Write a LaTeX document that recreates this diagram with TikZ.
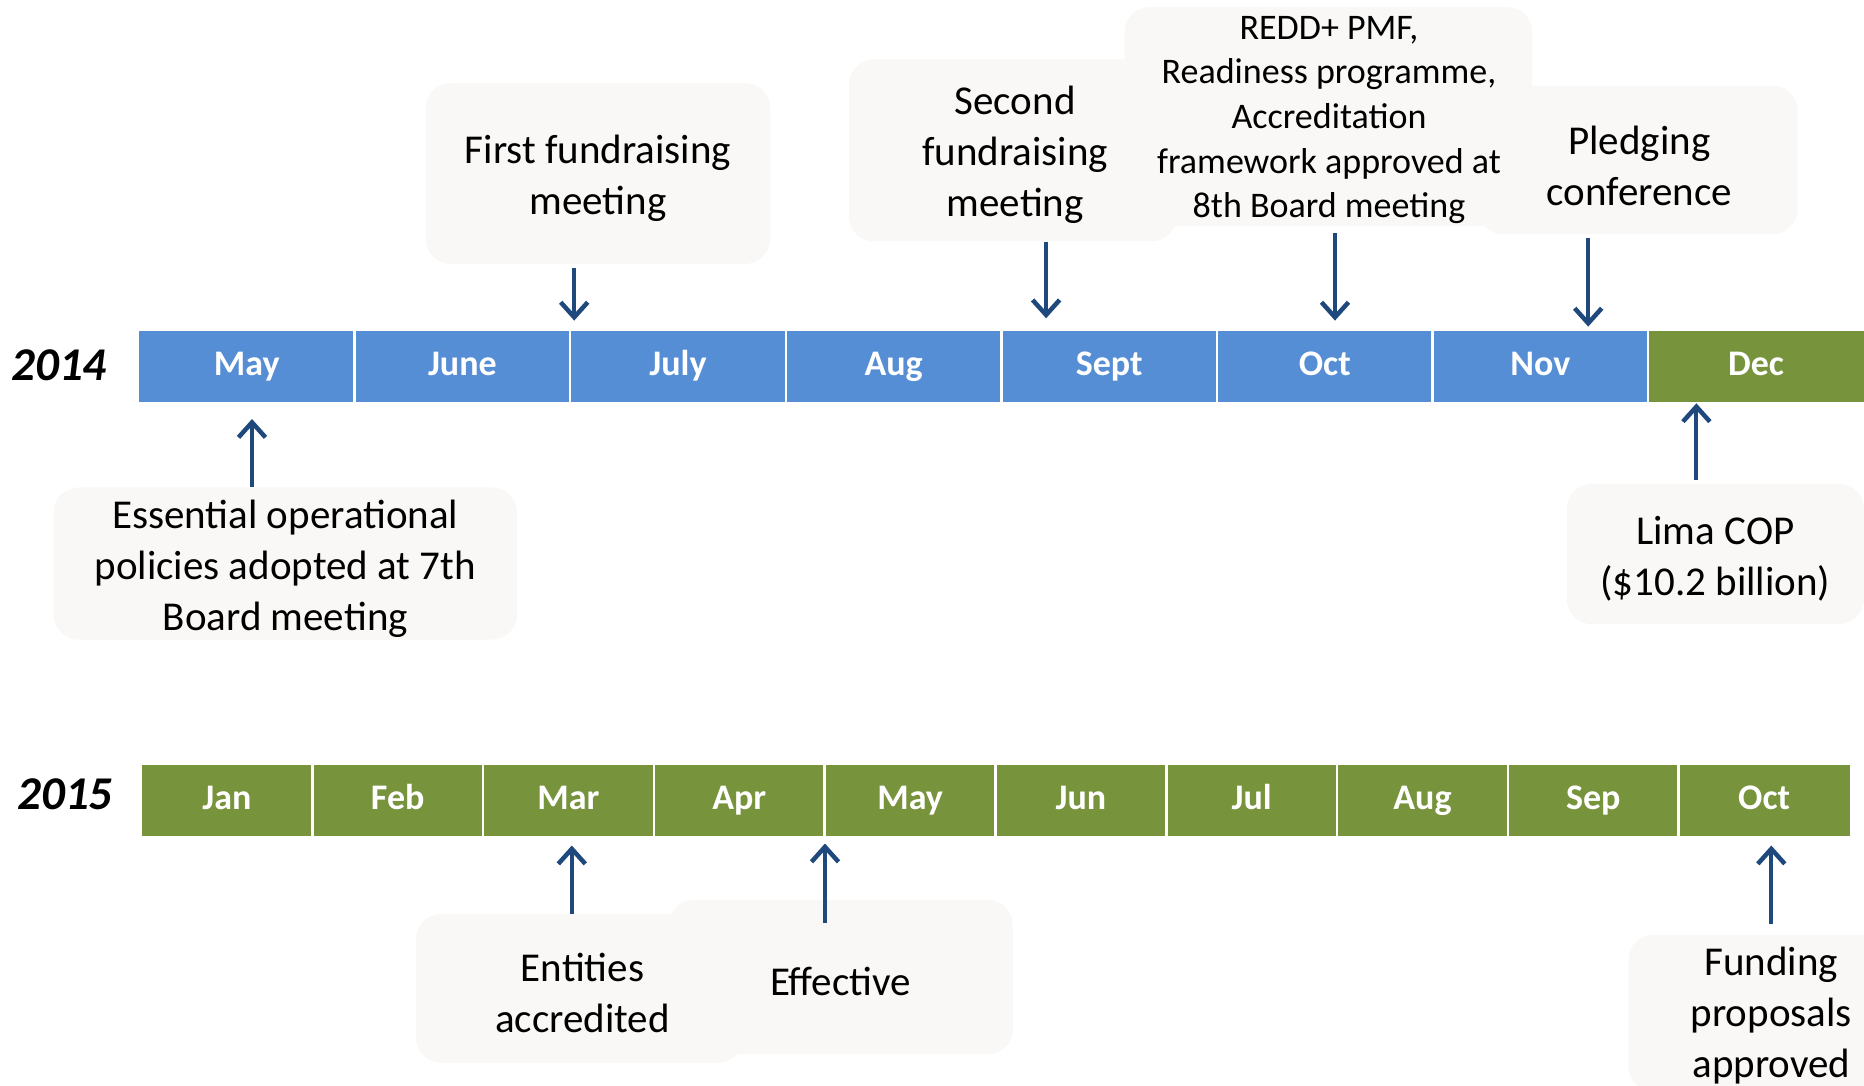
\documentclass[tikz,border=0pt]{standalone}
\usepackage{fontspec}
\setmainfont{Carlito}
\usetikzlibrary{arrows.meta,calc}
\definecolor{barblue}{HTML}{558ED5}
\definecolor{bargreen}{HTML}{77933C}
\definecolor{arrblue}{HTML}{1F497D}
\definecolor{boxfill}{HTML}{F9F8F6}
\begin{document}
\begin{tikzpicture}[x=1pt,y=-1pt,
 month/.style={fill=#1, minimum height=71pt, inner sep=0pt, outer sep=0pt, text=white, text height=25pt, text depth=7pt, font=\fontsize{36}{40}\selectfont\bfseries},
 sepline/.style={draw=white, line width=2.5pt},
 callout/.style={fill=boxfill, rounded corners=25pt, inner sep=0pt},
 ctext/.style={inner sep=0pt, align=center, font=\fontsize{41}{51}\selectfont},
 arr/.style={draw=arrblue, line width=4pt, -{Straight Barb[length=15pt,width=27pt,line width=4.5pt]}},
 year/.style={font=\fontsize{47}{50}\selectfont\bfseries\itshape}
]
\useasboundingbox (0,0) rectangle (1864,1085);
\clip (0,0) rectangle (1864,1085);

% ---- 2014 bar
\node[year] (y14) at (59,365) {2014};
\foreach [count=\i] \m in {May,June,July,Aug,Sept,Oct,Nov,Dec} {
  \pgfmathsetmacro\cx{139+(\i-0.5)*215.6}
  \ifnum\i=8 \def\cc{bargreen}\else\def\cc{barblue}\fi
  \node[month=\cc, minimum width=215.6pt] (a\i) at (\cx,366.8) {\m};
}
\foreach \i in {1,...,7} \draw[sepline] (a\i.north east) -- (a\i.south east);

% ---- 2015 bar
\node[year] (y15) at (65,794) {2015};
\foreach [count=\i] \m in {Jan,Feb,Mar,Apr,May,Jun,Jul,Aug,Sep,Oct} {
  \pgfmathsetmacro\cx{141.5+(\i-0.5)*170.8}
  \node[month=bargreen, minimum width=170.8pt] (b\i) at (\cx,800) {\m};
}
\foreach \i in {1,...,9} \draw[sepline] (b\i.north east) -- (b\i.south east);

% ---- callout boxes
\node[callout, minimum width=344.7pt, minimum height=180.7pt] (first) at (598,173.5) {};
\node[callout, minimum width=328pt, minimum height=182pt] (second) at (1012.9,150.4) {};
\node[callout, minimum width=319.8pt, minimum height=148.6pt] (pledge) at (1637.6,159.9) {};
\node[callout, minimum width=407.8pt, minimum height=218.8pt] (redd) at (1328.5,116.5) {};
\node[callout, minimum width=463.6pt, minimum height=152.2pt] (essential) at (285.3,563.5) {};
\node[callout, minimum width=297.2pt, minimum height=140.3pt] (lima) at (1715.4,554) {};
\node[callout, minimum width=327pt, minimum height=148.8pt] (entities) at (579.5,988.4) {};
\node[callout, minimum width=343.6pt, minimum height=154.5pt] (effective) at (841,977) {};
\node[callout, minimum width=285pt, minimum height=157pt] (funding) at (1771,1013) {};

% ---- callout texts
\node[ctext] (firstt) at (598,178) {First fundraising\\meeting};
\node[ctext] (secondt) at (1015.2,155) {Second\\fundraising\\meeting};
\node[ctext] (pledget) at (1639.4,166) {Pledging\\conference};
\node[ctext, font=\fontsize{36}{44.6}\selectfont] (reddt) at (1329,120) {REDD+ PMF,\\Readiness programme,\\Accreditation\\framework approved at\\8th Board meeting};
\node[ctext] (essentialt) at (285.3,569) {Essential operational\\policies adopted at 7th\\Board meeting};
\node[ctext] (limat) at (1715.4,559) {Lima COP\\(\$10.2 billion)};
\node[ctext] (entitiest) at (582.5,993) {Entities\\accredited};
\node[ctext] (effectivet) at (840.5,981) {Effective};
\node[ctext] (fundingt) at (1771.3,1016) {Funding\\proposals\\approved};

% ---- arrow columns
\coordinate (c1) at (574.2,0);
\coordinate (c2) at (1046.1,0);
\coordinate (c3) at (1335,0);
\coordinate (c4) at (1588.2,0);
\coordinate (c5) at (252,0);
\coordinate (c6) at (1696.4,0);
\coordinate (c7) at (571.8,0);
\coordinate (c8) at (825,0);
\coordinate (c9) at (1771.3,0);

\draw[arr] ([yshift=-3.6pt]first.south -| c1) -- ([yshift=10.7pt]a2.north -| c1);
\draw[arr] (second.south -| c2) -- ([yshift=13pt]a5.north -| c2);
\draw[arr] ([yshift=-7pt]redd.south -| c3) -- ([yshift=10.7pt]a6.north -| c3);
\draw[arr] ([yshift=-3.6pt]pledge.south -| c4) -- ([yshift=4.7pt]a7.north -| c4);
\draw[arr] (essential.north -| c5) -- ([yshift=-16.7pt]a1.south -| c5);
\draw[arr] ([yshift=3.8pt]lima.north -| c6) -- ([yshift=-1pt]a8.south -| c6);
\draw[arr] (entities.north -| c7) -- ([yshift=-10pt]b3.south -| c7);
\draw[arr] ([yshift=-23.7pt]effective.north -| c8) -- ([yshift=-8pt]b4.south -| c8);
\draw[arr] ([yshift=10.7pt]funding.north -| c9) -- ([yshift=-10pt]b10.south -| c9);
\end{tikzpicture}
\end{document}
